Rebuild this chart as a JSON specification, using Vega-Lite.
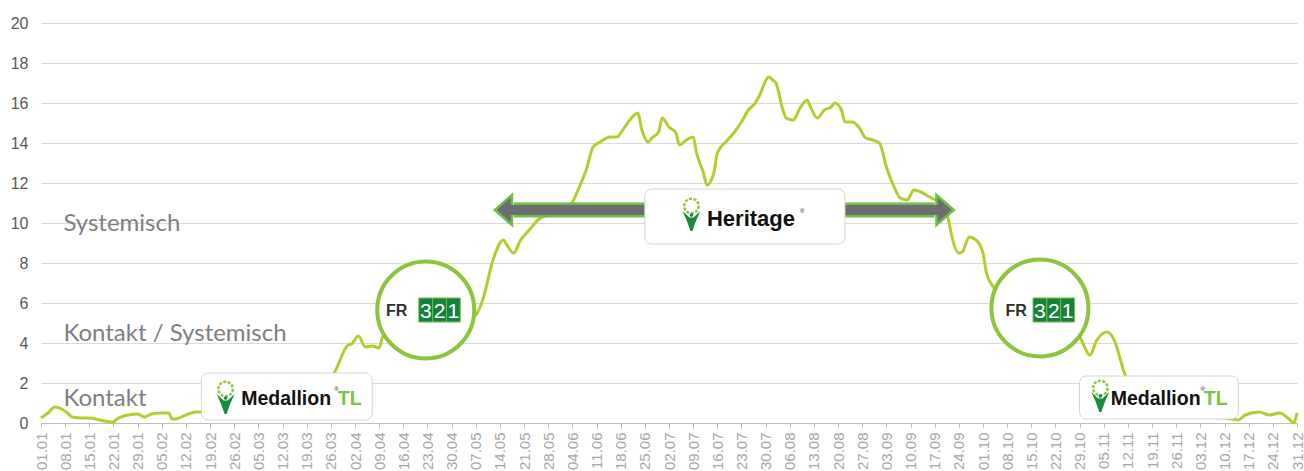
{
  "$schema": "https://vega.github.io/schema/vega-lite/v6.json",
  "width": 1256,
  "height": 400,
  "autosize": {"type": "none"},
  "padding": {"left": 41, "top": 23, "right": 7, "bottom": 48},
  "background": "white",
  "config": {"view": {"stroke": null}, "font": "Liberation Sans"},
  "datasets": {
    "series": [
      {"date":"2023-01-01","value":0.25},{"date":"2023-01-03","value":0.5},{"date":"2023-01-05","value":0.8},{"date":"2023-01-07","value":0.7},
      {"date":"2023-01-09","value":0.45},{"date":"2023-01-10","value":0.3},{"date":"2023-01-13","value":0.25},{"date":"2023-01-15","value":0.25},
      {"date":"2023-01-18","value":0.15},{"date":"2023-01-22","value":0.05},{"date":"2023-01-23","value":0.2},{"date":"2023-01-25","value":0.35},
      {"date":"2023-01-29","value":0.45},{"date":"2023-01-31","value":0.3},{"date":"2023-02-02","value":0.45},{"date":"2023-02-05","value":0.5},
      {"date":"2023-02-07","value":0.5},{"date":"2023-02-08","value":0.2},{"date":"2023-02-09","value":0.2},{"date":"2023-02-12","value":0.4},
      {"date":"2023-02-15","value":0.55},{"date":"2023-02-17","value":0.55},{"date":"2023-02-22","value":0.55},{"date":"2023-03-03","value":0.65},
      {"date":"2023-03-11","value":0.85},{"date":"2023-03-19","value":1.25},{"date":"2023-03-23","value":1.65},{"date":"2023-03-27","value":2.5},
      {"date":"2023-03-31","value":3.9},{"date":"2023-04-01","value":3.95},{"date":"2023-04-03","value":4.35},{"date":"2023-04-05","value":3.8},
      {"date":"2023-04-07","value":3.85},{"date":"2023-04-09","value":3.75},{"date":"2023-04-10","value":4.3},{"date":"2023-04-14","value":4.65},
      {"date":"2023-04-18","value":5.05},{"date":"2023-04-22","value":5.25},{"date":"2023-04-27","value":5.15},{"date":"2023-05-01","value":5.25},
      {"date":"2023-05-05","value":5.25},{"date":"2023-05-07","value":5.4},{"date":"2023-05-09","value":6.15},{"date":"2023-05-12","value":8.15},
      {"date":"2023-05-15","value":9.15},{"date":"2023-05-16","value":8.9},{"date":"2023-05-18","value":8.5},{"date":"2023-05-20","value":9.15},
      {"date":"2023-05-22","value":9.55},{"date":"2023-05-23","value":9.75},{"date":"2023-05-25","value":10.15},{"date":"2023-05-29","value":10.45},
      {"date":"2023-05-31","value":10.55},{"date":"2023-06-04","value":11.05},{"date":"2023-06-06","value":11.8},{"date":"2023-06-08","value":12.65},
      {"date":"2023-06-10","value":13.8},{"date":"2023-06-12","value":14.05},{"date":"2023-06-15","value":14.3},{"date":"2023-06-17","value":14.3},
      {"date":"2023-06-18","value":14.5},{"date":"2023-06-20","value":15.0},{"date":"2023-06-23","value":15.5},{"date":"2023-06-24","value":14.75},
      {"date":"2023-06-26","value":14.05},{"date":"2023-06-27","value":14.25},{"date":"2023-06-29","value":14.55},{"date":"2023-06-30","value":15.25},
      {"date":"2023-07-02","value":14.8},{"date":"2023-07-04","value":14.5},{"date":"2023-07-05","value":13.9},{"date":"2023-07-07","value":14.15},
      {"date":"2023-07-09","value":14.3},{"date":"2023-07-10","value":13.5},{"date":"2023-07-12","value":12.5},{"date":"2023-07-13","value":11.9},
      {"date":"2023-07-15","value":12.5},{"date":"2023-07-16","value":13.5},{"date":"2023-07-19","value":14.15},{"date":"2023-07-21","value":14.55},
      {"date":"2023-07-23","value":15.05},{"date":"2023-07-25","value":15.65},{"date":"2023-07-27","value":16.0},{"date":"2023-07-28","value":16.3},
      {"date":"2023-07-31","value":17.3},{"date":"2023-08-01","value":17.15},{"date":"2023-08-02","value":17.0},{"date":"2023-08-04","value":15.65},
      {"date":"2023-08-05","value":15.25},{"date":"2023-08-07","value":15.15},{"date":"2023-08-09","value":15.75},{"date":"2023-08-11","value":16.15},
      {"date":"2023-08-12","value":15.8},{"date":"2023-08-14","value":15.25},{"date":"2023-08-16","value":15.65},{"date":"2023-08-18","value":15.8},
      {"date":"2023-08-19","value":16.0},{"date":"2023-08-21","value":15.65},{"date":"2023-08-22","value":15.05},{"date":"2023-08-24","value":15.05},
      {"date":"2023-08-26","value":14.8},{"date":"2023-08-28","value":14.25},{"date":"2023-08-30","value":14.15},{"date":"2023-09-01","value":14.0},
      {"date":"2023-09-03","value":12.8},{"date":"2023-09-05","value":11.9},{"date":"2023-09-07","value":11.25},{"date":"2023-09-09","value":11.15},
      {"date":"2023-09-11","value":11.65},{"date":"2023-09-13","value":11.55},{"date":"2023-09-16","value":11.25},{"date":"2023-09-19","value":11.0},
      {"date":"2023-09-21","value":10.15},{"date":"2023-09-22","value":9.3},{"date":"2023-09-24","value":8.5},{"date":"2023-09-25","value":8.55},
      {"date":"2023-09-27","value":9.3},{"date":"2023-09-29","value":9.15},{"date":"2023-10-01","value":8.5},{"date":"2023-10-02","value":7.5},
      {"date":"2023-10-04","value":6.8},{"date":"2023-10-07","value":6.15},{"date":"2023-10-12","value":5.9},{"date":"2023-10-16","value":5.55},
      {"date":"2023-10-20","value":5.15},{"date":"2023-10-25","value":4.75},{"date":"2023-10-29","value":4.3},{"date":"2023-11-01","value":3.4},
      {"date":"2023-11-03","value":4.15},{"date":"2023-11-06","value":4.55},{"date":"2023-11-08","value":4.15},{"date":"2023-11-11","value":2.5},
      {"date":"2023-11-14","value":1.4},{"date":"2023-11-18","value":0.75},{"date":"2023-11-24","value":0.5},{"date":"2023-12-03","value":0.35},
      {"date":"2023-12-10","value":0.25},{"date":"2023-12-14","value":0.15},{"date":"2023-12-16","value":0.4},{"date":"2023-12-20","value":0.55},
      {"date":"2023-12-23","value":0.4},{"date":"2023-12-26","value":0.5},{"date":"2023-12-29","value":0.15},{"date":"2023-12-30","value":0.0},
      {"date":"2023-12-31","value":0.5}
    ],
    "zones": [
      {"date":"2023-01-07T12:00:00Z","value":9.6,"label":"Systemisch"},
      {"date":"2023-01-07T12:00:00Z","value":4.1,"label":"Kontakt / Systemisch"},
      {"date":"2023-01-07T12:00:00Z","value":0.87,"label":"Kontakt"}
    ],
    "arrow": [
      {"part":"shaft","date":"2023-05-18","date2":"2023-09-17","value":10.65},
      {"part":"inner","date":"2023-05-16T12:00:00Z","date2":"2023-09-18T12:00:00Z","value":10.65},
      {"part":"left","date":"2023-05-15","value":10.65},
      {"part":"right","date":"2023-09-20","value":10.65}
    ],
    "boxes": [
      {"product":"Medallion TL","date":"2023-02-16T12:00:00Z","date2":"2023-04-07","value":0.15,"value2":2.5},
      {"product":"Medallion TL","date":"2023-10-29","date2":"2023-12-14","value":0.2,"value2":2.35},
      {"product":"Heritage","date":"2023-06-25","date2":"2023-08-22","value":8.95,"value2":11.7}
    ],
    "circles": [
      {"product":"FR321","date":"2023-04-22T12:00:00Z","value":5.65},
      {"product":"FR321","date":"2023-10-17T12:00:00Z","value":5.75}
    ],
    "digitBoxes": [
      {"date":"2023-04-20T12:00:00Z","date2":"2023-04-24T12:00:00Z","value":5.05,"value2":6.25},
      {"date":"2023-04-24T12:00:00Z","date2":"2023-04-28T12:00:00Z","value":5.05,"value2":6.25},
      {"date":"2023-04-28T12:00:00Z","date2":"2023-05-02T12:00:00Z","value":5.05,"value2":6.25},
      {"date":"2023-10-15T12:00:00Z","date2":"2023-10-19T12:00:00Z","value":5.05,"value2":6.25},
      {"date":"2023-10-19T12:00:00Z","date2":"2023-10-23T12:00:00Z","value":5.05,"value2":6.25},
      {"date":"2023-10-23T12:00:00Z","date2":"2023-10-27T12:00:00Z","value":5.05,"value2":6.25}
    ],
    "logos": [
      {"part":"medallion","label":"Medallion","date":"2023-02-28","value":0.9},
      {"part":"tl","label":"TL","date":"2023-03-28","value":0.9},
      {"part":"reg","label":"®","date":"2023-03-27","value":1.6},
      {"part":"medallion","label":"Medallion","date":"2023-11-07","value":0.9},
      {"part":"tl","label":"TL","date":"2023-12-04","value":0.9},
      {"part":"reg","label":"®","date":"2023-12-03","value":1.6},
      {"part":"heritage","label":"Heritage","date":"2023-07-13","value":9.85},
      {"part":"reg","label":"®","date":"2023-08-09","value":10.5},
      {"part":"fr","label":"FR","date":"2023-04-11","value":5.35},
      {"part":"fr","label":"FR","date":"2023-10-07T12:00:00Z","value":5.35},
      {"part":"digit","label":"3","date":"2023-04-22T12:00:00Z","value":5.25},
      {"part":"digit","label":"2","date":"2023-04-26T12:00:00Z","value":5.25},
      {"part":"digit","label":"1","date":"2023-04-30T12:00:00Z","value":5.25},
      {"part":"digit","label":"3","date":"2023-10-17T12:00:00Z","value":5.25},
      {"part":"digit","label":"2","date":"2023-10-21T12:00:00Z","value":5.25},
      {"part":"digit","label":"1","date":"2023-10-25T12:00:00Z","value":5.25}
    ],
    "icons": [
      {"part":"ring","date":"2023-02-23T12:00:00Z","value":1.7},
      {"part":"figure","date":"2023-02-23T12:00:00Z","value":0.95},
      {"part":"ring","date":"2023-11-04","value":1.75},
      {"part":"figure","date":"2023-11-04","value":1.05},
      {"part":"ring","date":"2023-07-08T12:00:00Z","value":10.85},
      {"part":"figure","date":"2023-07-08T12:00:00Z","value":10.1}
    ]
  },
  "encoding": {
    "x": {
      "field": "date", "type": "temporal",
      "scale": {"type": "utc", "domain": [{"year": 2023, "month": 1, "date": 1, "utc": true}, {"year": 2023, "month": 12, "date": 31, "utc": true}], "nice": false},
      "axis": {
        "title": null, "format": "%d.%m", "tickCount": {"interval": "week", "step": 1},
        "labelAngle": 270, "labelAlign": "right", "labelBaseline": "middle",
        "labelColor": "#a6a6a6", "labelFontSize": 15, "labelFont": "Liberation Sans", "labelPadding": 4,
        "labelOverlap": false, "labelFlush": false, "grid": false,
        "domainColor": "#bfbfbf", "tickColor": "#bfbfbf", "tickSize": 5
      }
    },
    "y": {
      "field": "value", "type": "quantitative",
      "scale": {"domain": [0, 20], "nice": false},
      "axis": {
        "title": null, "values": [0, 2, 4, 6, 8, 10, 12, 14, 16, 18, 20],
        "domain": false, "ticks": false, "labelColor": "#595959", "labelFontSize": 16,
        "labelFont": "Liberation Sans", "labelPadding": 13, "gridColor": "#d9d9d9", "gridWidth": 1
      }
    }
  },
  "layer": [
    {
      "data": {"name": "series"},
      "mark": {"type": "line", "color": "#b5cc2e", "strokeWidth": 3, "interpolate": "monotone"}
    },
    {
      "data": {"name": "zones"},
      "mark": {"type": "text", "align": "left", "baseline": "alphabetic", "font": "Lato", "fontSize": 24, "color": "#7f7f7f"},
      "encoding": {"text": {"field": "label"}}
    },
    {
      "data": {"name": "arrow"},
      "transform": [{"filter": "datum.part === 'shaft'"}],
      "mark": {"type": "rule", "color": "#6abf45", "strokeWidth": 15},
      "encoding": {"x2": {"field": "date2"}}
    },
    {
      "data": {"name": "arrow"},
      "transform": [{"filter": "datum.part === 'left'"}],
      "mark": {"type": "point", "shape": "M-0.57,0L0.57,-1L0.57,1Z", "size": 900, "filled": true, "fill": "#6d6e71", "stroke": "#6abf45", "strokeWidth": 2.5, "opacity": 1}
    },
    {
      "data": {"name": "arrow"},
      "transform": [{"filter": "datum.part === 'right'"}],
      "mark": {"type": "point", "shape": "M0.57,0L-0.57,-1L-0.57,1Z", "size": 900, "filled": true, "fill": "#6d6e71", "stroke": "#6abf45", "strokeWidth": 2.5, "opacity": 1}
    },
    {
      "data": {"name": "arrow"},
      "transform": [{"filter": "datum.part === 'inner'"}],
      "mark": {"type": "rule", "color": "#6d6e71", "strokeWidth": 10},
      "encoding": {"x2": {"field": "date2"}}
    },
    {
      "data": {"name": "boxes"},
      "mark": {"type": "rect", "fill": "white", "stroke": "#d4d4d4", "strokeWidth": 1, "cornerRadius": 7},
      "encoding": {"x2": {"field": "date2"}, "y2": {"field": "value2"}}
    },
    {
      "data": {"name": "circles"},
      "mark": {"type": "point", "shape": "circle", "size": 9400, "filled": true, "fill": "white", "stroke": "#8dc43c", "strokeWidth": 4, "opacity": 1}
    },
    {
      "data": {"name": "digitBoxes"},
      "mark": {"type": "rect", "fill": "#17803a", "stroke": "#6cbf4a", "strokeWidth": 1},
      "encoding": {"x2": {"field": "date2"}, "y2": {"field": "value2"}}
    },
    {
      "data": {"name": "logos"},
      "transform": [{"filter": "datum.part === 'medallion'"}],
      "mark": {"type": "text", "align": "left", "baseline": "alphabetic", "font": "Liberation Sans", "fontWeight": "bold", "fontSize": 19.5, "color": "#111111"},
      "encoding": {"text": {"field": "label"}}
    },
    {
      "data": {"name": "logos"},
      "transform": [{"filter": "datum.part === 'tl'"}],
      "mark": {"type": "text", "align": "left", "baseline": "alphabetic", "font": "Liberation Sans", "fontWeight": "bold", "fontSize": 19.5, "color": "#7dc242"},
      "encoding": {"text": {"field": "label"}}
    },
    {
      "data": {"name": "logos"},
      "transform": [{"filter": "datum.part === 'reg'"}],
      "mark": {"type": "text", "align": "left", "baseline": "alphabetic", "font": "Liberation Sans", "fontSize": 6, "color": "#111111"},
      "encoding": {"text": {"field": "label"}}
    },
    {
      "data": {"name": "logos"},
      "transform": [{"filter": "datum.part === 'heritage'"}],
      "mark": {"type": "text", "align": "left", "baseline": "alphabetic", "font": "Liberation Sans", "fontWeight": "bold", "fontSize": 22, "color": "#111111"},
      "encoding": {"text": {"field": "label"}}
    },
    {
      "data": {"name": "logos"},
      "transform": [{"filter": "datum.part === 'fr'"}],
      "mark": {"type": "text", "align": "left", "baseline": "alphabetic", "font": "Liberation Sans", "fontWeight": "bold", "fontSize": 16, "color": "#2e2e2e"},
      "encoding": {"text": {"field": "label"}}
    },
    {
      "data": {"name": "logos"},
      "transform": [{"filter": "datum.part === 'digit'"}],
      "mark": {"type": "text", "align": "center", "baseline": "alphabetic", "font": "Liberation Sans", "fontSize": 21, "color": "white"},
      "encoding": {"text": {"field": "label"}}
    },
    {
      "data": {"name": "icons"},
      "transform": [{"filter": "datum.part === 'ring'"}],
      "mark": {"type": "point", "shape": "circle", "size": 210, "filled": false, "stroke": "#8dc63f", "strokeWidth": 2.5, "strokeDash": [3, 1.5], "opacity": 1}
    },
    {
      "data": {"name": "icons"},
      "transform": [{"filter": "datum.part === 'figure'"}],
      "mark": {"type": "point", "shape": "M-0.9,-1L-0.2,-0.35L0.2,-0.35L0.9,-1L0.45,0L0.1,1L-0.1,1L-0.45,0Z M-0.18,-0.6a0.18,0.18 0 1,0 0.36,0a0.18,0.18 0 1,0 -0.36,0Z", "size": 400, "filled": true, "fill": "#1a8a3c", "strokeWidth": 0, "opacity": 1}
    }
  ]
}
